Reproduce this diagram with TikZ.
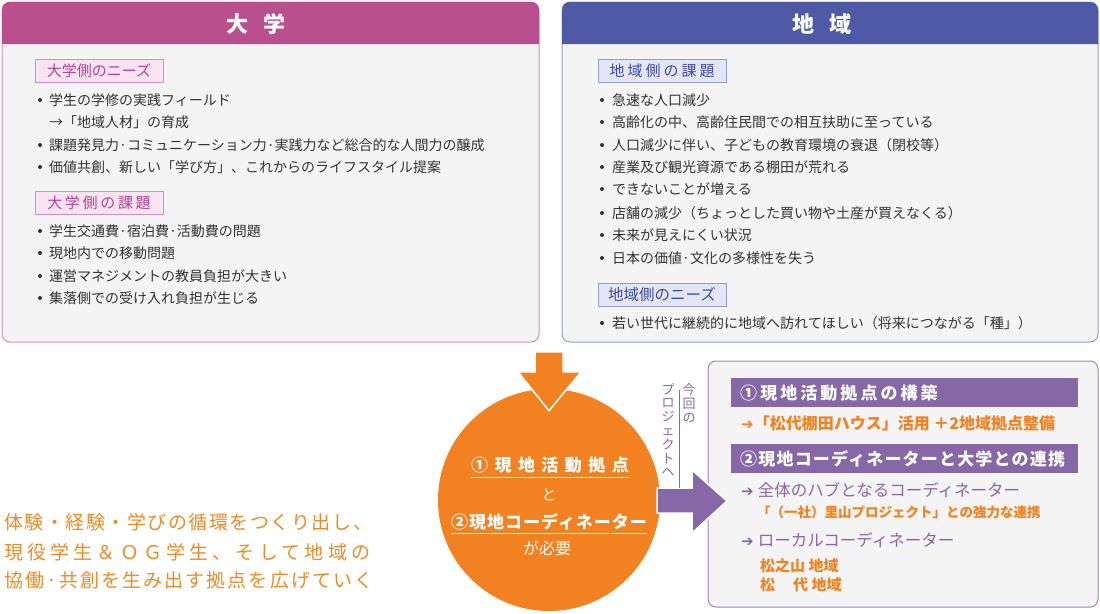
\documentclass[tikz,border=0pt]{standalone}
\usepackage{fontspec}
\setmainfont{Noto Sans CJK JP}
\newfontfamily\symfont{DejaVu Sans}
\usetikzlibrary{calc}

\definecolor{unihead}{HTML}{BA4F8E}
\definecolor{uniline}{HTML}{D88DBB}
\definecolor{unilight}{HTML}{F8E4F0}
\definecolor{unitext}{HTML}{B8428C}
\definecolor{reghead}{HTML}{4E5AA5}
\definecolor{regline}{HTML}{959CD3}
\definecolor{reglight}{HTML}{E3E6F6}
\definecolor{regtext}{HTML}{3F4A9C}
\definecolor{orng}{HTML}{F28121}
\definecolor{purp}{HTML}{8768A7}
\definecolor{purline}{HTML}{A184C2}
\definecolor{paper}{HTML}{F4F4F4}
\definecolor{txt}{HTML}{333333}
\definecolor{leadc}{HTML}{EE8A26}

\newcommand\fsz[1]{\fontsize{#1}{#1}\selectfont}
\newcommand\ls[1]{\addfontfeatures{LetterSpace=#1}}
\newcommand\arr{{\symfont\bfseries\fsz{15}➔}}

\tikzset{
    item/.style={anchor=west, inner sep=0pt, text=txt, font=\fsz{14}},
    tagbox/.style={draw, line width=1pt, minimum width=128pt, minimum height=23pt, inner sep=0pt, font=\fsz{15}},
    title/.style={text=white, inner sep=0pt, font=\bfseries\fsz{22}},
    bar/.style={anchor=north west, fill=purp, text=white, minimum height=29pt, text width=329pt, inner xsep=9pt, inner ysep=0pt, align=left, font=\bfseries\fsz{17}},
    otext/.style={anchor=west, inner sep=0pt, text=orng, font=\bfseries\fsz{16}},
    ptext/.style={anchor=west, inner sep=0pt, text=purp, font=\fsz{16.5}},
    ctext/.style={inner sep=0pt, text=white, font=\bfseries\fsz{17}},
    uline/.style={white, line width=0.9pt},
    leadtext/.style={anchor=west, inner sep=0pt, text=leadc, font=\fsz{19}},
    vtext/.style={inner sep=0pt, text=purp, align=center, font=\fontsize{13}{13.8}\selectfont},
}

\begin{document}
\begin{tikzpicture}[x=1pt, y=-1pt]
    \useasboundingbox (0,0) rectangle (1100,613);

    % university
    \filldraw[fill=paper, draw=uniline, line width=1pt, rounded corners=8pt] (2,2) rectangle (539,342);
    \fill[unihead] (2,44) [rounded corners=8pt] -- (2,2) -- (539,2) [sharp corners] -- (539,44) -- cycle;
    \node[title] (univ) at (256,24) {大\hspace{0.7em}学};
    \node[tagbox, draw=uniline, fill=unilight, text=unitext] (uneeds) at (99,71) {大学側のニーズ};
    \node[tagbox, draw=uniline, fill=unilight, text=unitext] (utasks) at (99,203) {\ls{18}大学側の課題};
    \foreach \y/\t [count=\i] in {100/学生の学修の実践フィールド, 122/→「地域人材」の育成,
        145/課題発見力·コミュニケーション力·実践力など総合的な人間力の醸成,
        167/価値共創、新しい「学び方」、これからのライフスタイル提案}{
        \node[item] (un\i) at (49,\y) {\t};
    }
    \foreach \y/\t [count=\i] in {231/学生交通費·宿泊費·活動費の問題, 253/現地内での移動問題,
        276/運営マネジメントの教員負担が大きい, 298/集落側での受け入れ負担が生じる}{
        \node[item] (ut\i) at (49,\y) {\t};
    }
    \foreach \y in {100,145,167,231,253,276,298}{
        \fill[txt] (40,\y) circle (2);
    }

    % region
    \filldraw[fill=paper, draw=regline, line width=1pt, rounded corners=8pt] (562,2) rectangle (1098,342);
    \fill[reghead] (562,44) [rounded corners=8pt] -- (562,2) -- (1098,2) [sharp corners] -- (1098,44) -- cycle;
    \node[title] (reg) at (822,24) {地\hspace{0.7em}域};
    \node[tagbox, draw=regline, fill=reglight, text=regtext] (rtasks) at (662,71) {\ls{20}地域側の課題};
    \node[tagbox, draw=regline, fill=reglight, text=regtext] (rneeds) at (662,295) {\fsz{15.5}地域側のニーズ};
    \foreach \y/\t [count=\i] in {100/急速な人口減少, 122/高齢化の中、高齢住民間での相互扶助に至っている,
        145/人口減少に伴い、子どもの教育環境の衰退（閉校等）, 167/産業及び観光資源である棚田が荒れる,
        189/できないことが増える, 213/店舗の減少（ちょっとした買い物や土産が買えなくる）,
        235/未来が見えにくい状況, 258/日本の価値·文化の多様性を失う,
        323/若い世代に継続的に地域へ訪れてほしい（将来につながる「種」）}{
        \node[item] (rt\i) at (612,\y) {\t};
        \fill[txt] (602,\y) circle (2);
    }

    % lead text
    \node[leadtext] (lead1) at (4,522) {\ls{8}体験・経験・学びの循環をつくり出し、};
    \node[leadtext] (lead2) at (4,552) {\ls{22}現役学生＆ＯＧ学生、そして地域の};
    \node[leadtext] (lead3) at (4,580) {\ls{11}協働·共創を生み出す拠点を広げていく};

    % core
    \node[circle, fill=orng, minimum size=222pt, inner sep=0pt] (core) at (549,500) {};
    \node[ctext] (c1) at (550,465) {\ls{38}①現地活動拠点};
    \node[ctext, font=\fsz{15}] (c2) at (549,495) {と};
    \node[ctext] (c3) at (549,522) {\ls{6}②現地コーディネーター};
    \node[ctext, font=\fsz{16}] (c4) at (547,548) {が必要};
    \draw[uline] (c1.west |- 0,477) -- (c1.east |- 0,477);
    \draw[uline] (c3.west |- 0,533) -- (c3.east |- 0,533);

    % project box
    \filldraw[fill=paper, draw=purline, line width=1pt, rounded corners=8pt] (708,361) rectangle (1098,607);
    \node[bar] (h1) at (731,378) {\ls{18}①現地活動拠点の構築};
    \node[otext] (o1) at (741,423) {\arr「松代棚田ハウス」活用 ＋2地域拠点整備};
    \node[bar] (h2) at (731,444) {\ls{7}②現地コーディネーターと大学との連携};
    \node[ptext] (p1) at (741,490) {\arr\hspace{4pt}全体のハブとなるコーディネーター};
    \node[otext, font=\bfseries\fsz{13.5}] (o2) at (757,512) {「（一社）里山プロジェクト」との強力な連携};
    \node[ptext] (p2) at (741,540) {\arr\hspace{4pt}ローカルコーディネーター};
    \node[otext, font=\bfseries\fsz{15}] (o3) at (760,566) {松之山 地域};
    \node[otext, font=\bfseries\fsz{15}] (o4) at (760,585) {松\hspace{1.2em}代 地域};

    % arrows
    \coordinate (tipA) at ([yshift=-22pt]core.north);
    \filldraw[fill=orng, draw=white, line width=1.5pt] (tipA) -- ++(-31,-39) -- ++(17,0) -- ++(0,-20)
        -- ++(28,0) -- ++(0,20) -- ++(18,0) -- cycle;
    \coordinate (tipB) at (727,501);
    \filldraw[fill=purp, draw=white, line width=1.5pt] (tipB) -- ++(-35,-31) -- ++(0,18) -- ++(-35,0)
        -- ++(0,25) -- ++(35,0) -- ++(0,20) -- cycle;
    \draw[purp, line width=0.8pt] (679,390) -- (679,488);
    \node[vtext] (v1) at (689,403) {今\\回\\の};
    \node[vtext] (v2) at (668,430) {プ\\ロ\\ジ\\ェ\\ク\\ト\\へ};
\end{tikzpicture}
\end{document}
